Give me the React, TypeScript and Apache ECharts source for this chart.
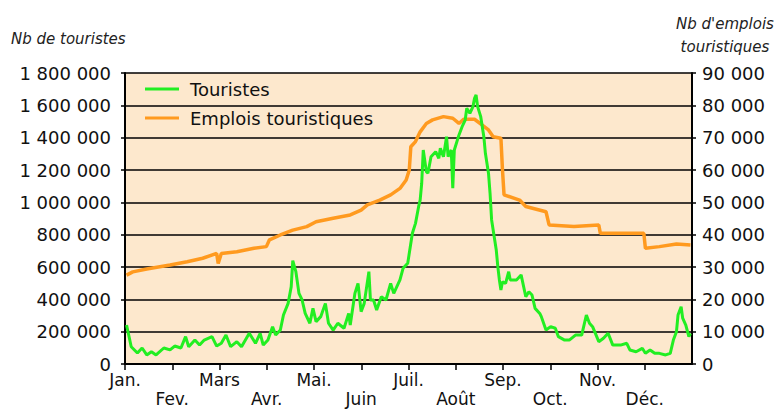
import React, { useEffect, useRef } from "react";
import * as echarts from "echarts";

const monthLabels = ["Jan.", "Fev.", "Mars", "Avr.", "Mai.", "Juin", "Juil.", "Août", "Sep.", "Oct.", "Nov.", "Déc."];

// day of year
const touristDays = [1, 4, 8, 11, 14, 17, 20, 25, 29, 32, 36, 39, 41, 45, 48, 51, 56, 59, 62, 65, 68, 72, 75, 80, 84, 87, 89, 92, 95, 97, 100, 102, 105, 107, 108, 110, 112, 114, 116, 119, 121, 123, 126, 129, 131, 134, 137, 141, 144, 145, 148, 150, 152, 154, 157, 158, 160, 162, 165, 168, 171, 173, 177, 179, 182, 185, 187, 189, 190, 191, 192, 194, 195, 197, 200, 202, 203, 205, 207, 208, 210, 211, 212, 215, 217, 219, 220, 222, 224, 225, 226, 227, 229, 231, 232, 234, 235, 236, 238, 239, 240, 241, 242, 243, 245, 247, 248, 252, 255, 258, 260, 262, 264, 267, 268, 271, 274, 277, 279, 283, 286, 290, 294, 297, 299, 301, 305, 308, 311, 314, 319, 323, 325, 329, 333, 335, 338, 341, 344, 348, 351, 353, 355, 356, 358, 359, 361, 363, 364];
// thousands of tourists
const touristValues = [241, 107, 68, 99, 56, 76, 56, 99, 87, 111, 99, 169, 107, 148, 117, 148, 169, 111, 128, 179, 107, 138, 107, 190, 128, 190, 117, 148, 231, 179, 210, 303, 375, 478, 639, 571, 437, 396, 313, 252, 344, 262, 293, 375, 252, 210, 252, 221, 313, 241, 437, 499, 324, 375, 571, 396, 396, 334, 416, 396, 499, 437, 520, 592, 623, 809, 870, 973, 1014, 1118, 1324, 1190, 1180, 1282, 1313, 1272, 1334, 1282, 1406, 1282, 1324, 1087, 1324, 1417, 1468, 1509, 1582, 1551, 1592, 1643, 1664, 1592, 1530, 1406, 1303, 1180, 1056, 891, 767, 705, 602, 520, 458, 509, 499, 571, 520, 520, 551, 416, 447, 427, 344, 313, 293, 210, 231, 221, 169, 148, 148, 179, 179, 303, 252, 231, 138, 159, 190, 117, 117, 128, 87, 76, 97, 66, 87, 66, 66, 56, 66, 148, 200, 303, 354, 283, 241, 169, 190];

const jobDays = [1, 5, 14, 29, 40, 50, 59, 60, 62, 72, 83, 91, 93, 100, 108, 117, 123, 134, 145, 152, 156, 164, 171, 177, 181, 183, 184, 187, 190, 194, 198, 205, 211, 215, 218, 225, 230, 234, 237, 242, 243, 244, 254, 258, 271, 273, 289, 305, 306, 334, 335, 344, 355, 364];
// jobs
const jobValues = [27500, 28500, 29400, 30600, 31600, 32700, 34200, 31100, 34200, 34700, 35800, 36300, 38400, 39900, 41400, 42500, 44000, 45100, 46100, 47600, 49200, 50700, 52300, 54300, 56900, 60000, 67200, 68800, 71800, 74400, 75500, 76500, 76000, 74400, 75700, 75700, 73900, 72400, 70300, 69800, 60000, 52300, 50700, 48700, 47100, 43000, 42500, 43000, 40400, 40400, 35800, 36300, 37100, 36800];

const FONT = "DejaVu Sans";
const fmt = (v: number) => String(Math.round(v)).replace(/\B(?=(\d{3})+(?!\d))/g, " ");
const MONTH = 365 / 12;

export default function App() {
  const ref = useRef<HTMLDivElement>(null);
  useEffect(() => {
    document.body.style.margin = "0";
    const chart = echarts.init(ref.current!, null, { renderer: "svg" });
    const tourists = touristDays.map((d, i) => [d, touristValues[i] * 1000]);
    const jobs = jobDays.map((d, i) => [d, jobValues[i]]);
    chart.setOption({
      animation: false,
      backgroundColor: "#ffffff",
      textStyle: { fontFamily: FONT },
      grid: {
        left: 125, right: 87, top: 73, bottom: 51,
        show: true, backgroundColor: "#FDE8CD", borderWidth: 0,
      },
      legend: {
        orient: "vertical",
        left: 140, top: 75,
        itemWidth: 34, itemHeight: 3, itemGap: 11,
        icon: "rect",
        data: ["Touristes", "Emplois touristiques"],
        textStyle: { fontFamily: FONT, fontSize: 18, color: "#111", padding: [0, 0, 0, 6] },
      },
      xAxis: {
        type: "value", min: 0, max: 365, interval: MONTH,
        axisLine: { show: true, lineStyle: { color: "#000", width: 2 } },
        axisTick: { show: true, length: 6, lineStyle: { color: "#000", width: 1.5 } },
        splitLine: { show: false },
        axisLabel: {
          fontFamily: FONT, fontSize: 17, color: "#111", margin: 6, lineHeight: 19,
          showMaxLabel: false,
          formatter: (v: number) => {
            const idx = Math.round(v / MONTH);
            if (idx >= 12) return "";
            return idx % 2 === 0 ? monthLabels[idx] : "\n" + monthLabels[idx];
          },
        },
      },
      yAxis: [
        {
          type: "value", min: 0, max: 1800000, interval: 200000, position: "left",
          axisLine: { show: true, lineStyle: { color: "#000", width: 2 } },
          axisTick: { show: true, length: 4, lineStyle: { color: "#000", width: 1.5 } },
          splitLine: { show: true, lineStyle: { color: "#000", width: 1.5 } },
          axisLabel: { fontFamily: FONT, fontSize: 18, color: "#111", margin: 14, formatter: fmt },
        },
        {
          type: "value", min: 0, max: 90000, interval: 10000, position: "right",
          axisLine: { show: true, lineStyle: { color: "#000", width: 2 } },
          axisTick: { show: true, length: 4, lineStyle: { color: "#000", width: 1.5 } },
          splitLine: { show: false },
          axisLabel: { fontFamily: FONT, fontSize: 18, color: "#111", margin: 10, formatter: fmt },
        },
      ],
      series: [
        {
          name: "Emplois touristiques", type: "line", yAxisIndex: 1, data: jobs,
          showSymbol: false, color: "#FF9A1F",
          lineStyle: { color: "#FF9A1F", width: 3.5 },
        },
        {
          name: "Touristes", type: "line", yAxisIndex: 0, data: tourists,
          showSymbol: false, color: "#22EE22",
          lineStyle: { color: "#22EE22", width: 3 },
        },
      ],
      graphic: [
        {
          type: "text", left: 11, top: 31,
          style: { text: "Nb de touristes", font: "italic 15px 'DejaVu Sans'", fill: "#222" },
        },
        {
          type: "text", x: 725, y: 12,
          style: { text: "Nb d'emplois\ntouristiques", font: "italic 15px 'DejaVu Sans'", fill: "#222", textAlign: "center", lineHeight: 23 },
        },
      ],
    });
    return () => chart.dispose();
  }, []);
  return <div ref={ref} style={{ width: 779, height: 415 }} />;
}
